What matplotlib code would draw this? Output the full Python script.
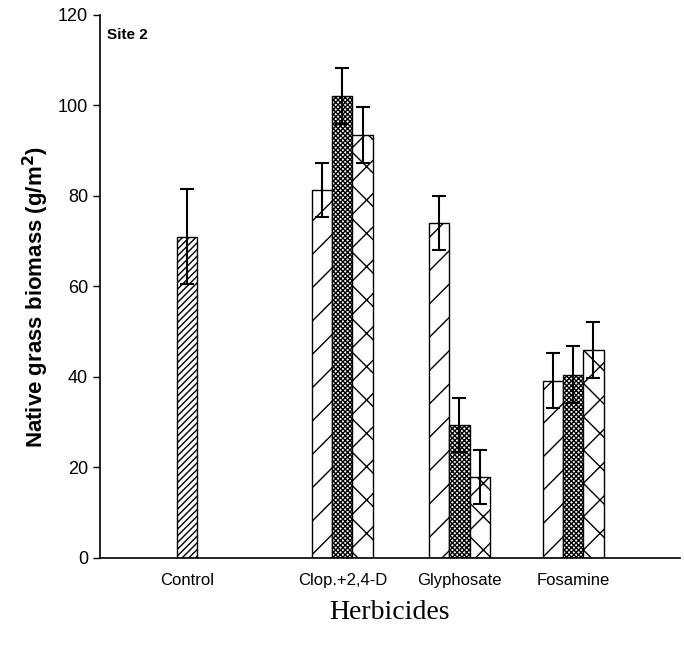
import numpy as np
import matplotlib
matplotlib.use("Agg")
from matplotlib import pyplot as plt

plt.rcParams['font.family'] = ['Liberation Sans', 'DejaVu Sans']
plt.rcParams['hatch.linewidth'] = 1.0

# data
categories = ["Control", "Clop.+2,4-D", "Glyphosate", "Fosamine"]
control_mean = 71.0
control_err = 10.5
s1 = [81.3, 74.0, 39.2]      # treated groups, first bar
s2 = [102.0, 29.4, 40.5]
s3 = [93.5, 17.9, 46.0]
e1 = [6.0, 6.0, 6.1]
e2 = [6.2, 6.0, 6.3]
e3 = [6.2, 6.0, 6.2]

pos = np.array([0.0, 1.34, 2.35, 3.33])
w = 0.175

fig = plt.figure(figsize=(6.84, 6.47), dpi=100)
ax = fig.add_axes([0.146, 0.1376, 0.848, 0.8394])

ekw = dict(ecolor='black', elinewidth=1.5, capsize=5, capthick=1.5)

ax.bar(pos[0], control_mean, w, yerr=control_err, color='white',
       edgecolor='black', hatch='/////', linewidth=1.0, error_kw=ekw)

g = pos[1:]
ax.bar(g - w, s1, w, yerr=e1, color='white', edgecolor='black', hatch='/',
       linewidth=1.0, error_kw=ekw)
ax.bar(g, s2, w, yerr=e2, color='white', edgecolor='black', hatch='xxxxxxx',
       linewidth=1.0, error_kw=ekw)
ax.bar(g + w, s3, w, yerr=e3, color='white', edgecolor='black', hatch='x',
       linewidth=1.0, error_kw=ekw)

ax.set_xlim(-0.75, 4.25)
ax.set_ylim(0, 120)
ax.set_yticks(range(0, 121, 20))
ax.tick_params(axis='y', direction='out', length=5, width=1, labelsize=13)
ax.set_xticks(pos)
ax.set_xticklabels(categories, fontsize=12)
ax.tick_params(axis='x', length=0, pad=11)

for s in ['top', 'right']:
    ax.spines[s].set_visible(False)
ax.spines['left'].set_linewidth(1.2)
ax.spines['bottom'].set_linewidth(1.2)

ax.set_ylabel("Native grass biomass (g/m$^\\mathbf{2}$)", fontsize=16,
              fontweight='bold', labelpad=6)
ax.yaxis.set_label_coords(-0.085, 0.48)
ax.text(0.012, 0.975, "Site 2", transform=ax.transAxes, fontsize=11,
        fontweight='bold', va='top', ha='left')

fig.text(0.57, 0.054, "Herbicides", fontsize=20, family='Liberation Serif',
         ha='center', va='center')

fig.savefig("out.png", dpi=100)
